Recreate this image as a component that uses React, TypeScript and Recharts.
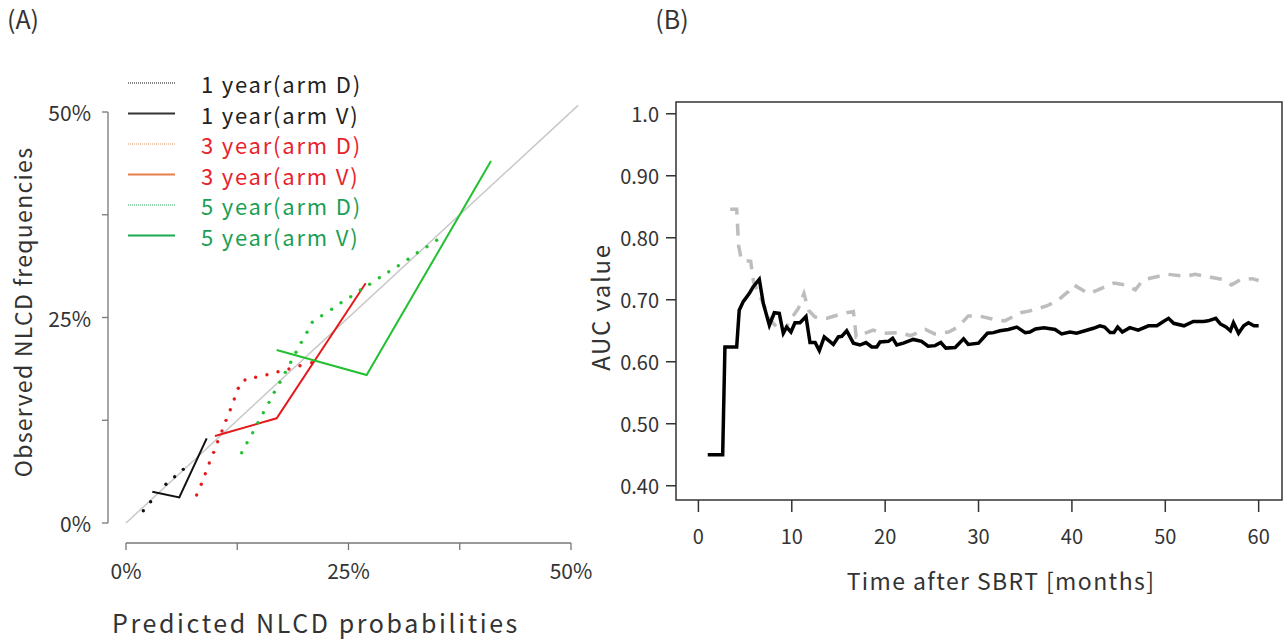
import React from 'react';
import { ComposedChart, Line, XAxis, YAxis, ReferenceLine, ReferenceArea } from 'recharts';

// ---- Panel A: calibration (predicted vs observed) ----
const identity = [0, 0.508];

const y1DX = [0.0195, 0.0277, 0.0449, 0.0547, 0.0644];
const y1DY = [0.015, 0.0259, 0.0471, 0.0563, 0.0653];
const y1VX = [0.0296, 0.0599, 0.0907];
const y1VY = [0.0381, 0.0312, 0.103];

const y3DX = [0.0794, 0.0846, 0.0891, 0.0936, 0.0985, 0.103, 0.1079, 0.1124, 0.1172, 0.1217, 0.1262, 0.1337, 0.1457, 0.1584, 0.1708, 0.1831, 0.1955, 0.2087];
const y3DY = [0.0341, 0.0471, 0.06, 0.073, 0.086, 0.0989, 0.1119, 0.1249, 0.1378, 0.1509, 0.1639, 0.174, 0.1773, 0.1804, 0.1841, 0.1873, 0.1914, 0.195];
const y3VX = [0.1, 0.1693, 0.2693];
const y3VY = [0.1058, 0.1274, 0.2916];

const y5DX = [0.13, 0.136, 0.1424, 0.1483, 0.1543, 0.1607, 0.1666, 0.173, 0.179, 0.1851, 0.191, 0.197, 0.2034, 0.2093, 0.2199, 0.2311, 0.2416, 0.2525, 0.2633, 0.2738, 0.2846, 0.2952, 0.306, 0.3169, 0.3273, 0.3382, 0.3491];
const y5DY = [0.0855, 0.0977, 0.1099, 0.122, 0.1342, 0.1468, 0.159, 0.1712, 0.1833, 0.1955, 0.2077, 0.2198, 0.232, 0.2442, 0.2522, 0.26, 0.268, 0.2753, 0.2835, 0.2904, 0.2984, 0.3057, 0.313, 0.3208, 0.3288, 0.3361, 0.3439];
const y5VX = [0.1693, 0.2704, 0.4101];
const y5VY = [0.2105, 0.18, 0.4404];

const pctTicks = [0, 0.125, 0.25, 0.375, 0.5];
const pctLabelled = [0, 0.25, 0.5];

const legendItems = [
  { label: '1 year(arm D)', line: '#111', text: '#222', dotted: true },
  { label: '1 year(arm V)', line: '#333', text: '#222', dotted: false },
  { label: '3 year(arm D)', line: '#e8956a', text: '#e8232c', dotted: true },
  { label: '3 year(arm V)', line: '#e8804a', text: '#e8232c', dotted: false },
  { label: '5 year(arm D)', line: '#2aa55a', text: '#1a9f55', dotted: true },
  { label: '5 year(arm V)', line: '#1ea84f', text: '#1a9f55', dotted: false },
];

// ---- Panel B: time-dependent AUC ----
const blackMonths = [1, 2.6, 2.84, 4.1, 4.37, 4.8, 5.44, 5.87, 6.52, 6.95, 7.6, 8.13, 8.66, 9.09, 9.45, 9.91, 10.34, 10.88, 11.52, 11.95, 12.5, 12.95, 13.48, 14.45, 14.98, 15.35, 15.88, 16.6, 17.3, 17.95, 18.56, 19.1, 19.45, 20.35, 20.8, 21.24, 21.95, 23.0, 23.9, 24.6, 25.35, 25.96, 26.5, 27.5, 28.4, 28.9, 30.0, 30.95, 31.6, 32.3, 33.2, 34.1, 35.0, 35.5, 36.1, 37.0, 38.2, 38.9, 39.8, 40.5, 41.4, 42.3, 43.0, 43.5, 44.1, 44.5, 44.9, 45.4, 46.2, 47.1, 48.2, 49.1, 49.8, 50.35, 50.9, 52.0, 53.0, 54.1, 54.6, 55.4, 55.9, 56.5, 56.97, 57.3, 57.85, 58.4, 58.9, 59.5, 60.0];
const blackAuc = [0.45, 0.45, 0.624, 0.624, 0.683, 0.697, 0.71, 0.721, 0.733, 0.694, 0.659, 0.679, 0.678, 0.646, 0.656, 0.648, 0.663, 0.663, 0.673, 0.631, 0.631, 0.618, 0.64, 0.628, 0.64, 0.641, 0.65, 0.63, 0.627, 0.631, 0.624, 0.624, 0.632, 0.633, 0.638, 0.627, 0.63, 0.636, 0.633, 0.625, 0.626, 0.631, 0.622, 0.623, 0.637, 0.628, 0.63, 0.646, 0.647, 0.65, 0.652, 0.656, 0.647, 0.648, 0.653, 0.655, 0.652, 0.645, 0.648, 0.646, 0.65, 0.654, 0.658, 0.656, 0.647, 0.647, 0.656, 0.648, 0.655, 0.651, 0.658, 0.658, 0.665, 0.67, 0.662, 0.658, 0.665, 0.665, 0.666, 0.67, 0.661, 0.656, 0.65, 0.663, 0.646, 0.658, 0.663, 0.658, 0.658];

const grayMonths = [3.4, 4.1, 4.3, 4.6, 5.6, 5.9, 6.8, 7.7, 8.4, 9.1, 9.8, 10.7, 11.3, 11.8, 12.5, 13.7, 15.5, 16.6, 16.9, 18.7, 19.8, 21.6, 22.7, 24.3, 25.3, 26.8, 27.8, 28.9, 30.0, 31.8, 32.8, 34.5, 35.5, 37.3, 38.4, 39.6, 40.2, 41.8, 42.8, 44.5, 45.7, 46.8, 47.6, 49.3, 50.3, 52.1, 53.2, 55.0, 56.1, 57.1, 58.0, 59.3, 60.0];
const grayAuc = [0.846, 0.846, 0.788, 0.764, 0.762, 0.729, 0.699, 0.667, 0.656, 0.646, 0.667, 0.686, 0.71, 0.683, 0.672, 0.67, 0.678, 0.681, 0.64, 0.651, 0.646, 0.647, 0.642, 0.652, 0.645, 0.648, 0.656, 0.674, 0.674, 0.668, 0.666, 0.679, 0.682, 0.69, 0.698, 0.713, 0.724, 0.71, 0.716, 0.727, 0.724, 0.716, 0.732, 0.738, 0.741, 0.738, 0.741, 0.736, 0.733, 0.724, 0.732, 0.734, 0.731];

const aucTicks = [0.4, 0.5, 0.6, 0.7, 0.8, 0.9, 1.0];
const monthTicks = [0, 10, 20, 30, 40, 50, 60];

const FONT = '"Noto Sans CJK JP", "Noto Sans", sans-serif';

const zip = (xs: number[], ys: number[]) => xs.map((x, i) => ({ x, y: ys[i] }));

function PctXTick({ x, y, payload }: any) {
  if (!pctLabelled.includes(payload.value)) return null;
  return (
    <text x={x} y={y + 18} textAnchor="middle" dominantBaseline="central" fontSize={21} fill="#333" fontFamily={FONT}>
      {Math.round(payload.value * 100)}%
    </text>
  );
}

function PctYTick({ x, y, payload }: any) {
  if (!pctLabelled.includes(payload.value)) return null;
  return (
    <text x={x - 9} y={y} textAnchor="end" dominantBaseline="central" fontSize={21} fill="#333" fontFamily={FONT}>
      {Math.round(payload.value * 100)}%
    </text>
  );
}

function AucTick({ x, y, payload }: any) {
  const v = payload.value;
  return (
    <text x={x - 5} y={y} textAnchor="end" dominantBaseline="central" fontSize={20} fill="#333" fontFamily={FONT}>
      {v === 1 ? '1.0' : v.toFixed(2)}
    </text>
  );
}

function MonthTick({ x, y, payload }: any) {
  return (
    <text x={x} y={y + 21} textAnchor="middle" dominantBaseline="central" fontSize={20} fill="#333" fontFamily={FONT}>
      {payload.value}
    </text>
  );
}

function LegendA() {
  return (
    <svg width={280} height={200} style={{ position: 'absolute', left: 120, top: 68 }}>
      {legendItems.map((it, i) => {
        const cy = 15 + i * 30.5;
        return (
          <g key={it.label}>
            <line x1={8} x2={55} y1={cy} y2={cy} stroke={it.line}
              strokeWidth={it.dotted ? 1.2 : 2} strokeDasharray={it.dotted ? '1 1' : undefined} />
            <text x={81} y={cy} dominantBaseline="central" fontSize={22} letterSpacing={1.8} fill={it.text} fontFamily={FONT}>
              {it.label}
            </text>
          </g>
        );
      })}
    </svg>
  );
}

const textStyle: React.CSSProperties = {
  position: 'absolute', fontFamily: FONT, color: '#333', whiteSpace: 'nowrap',
  transform: 'translate(-50%, -50%)', lineHeight: 1,
};

export default function App() {
  const axisYA = -0.0243;
  const axisXA = -0.0202;
  return (
    <div style={{ position: 'absolute', left: 0, top: 0, width: 1284, height: 640, background: '#fff', overflow: 'hidden' }}>
      <div style={{ ...textStyle, left: 23, top: 18, fontSize: 25 }}>(A)</div>
      <div style={{ ...textStyle, left: 672, top: 18, fontSize: 25 }}>(B)</div>
      <div style={{ ...textStyle, left: 22, top: 312, fontSize: 23, letterSpacing: 1.3, transform: 'translate(-50%, -50%) rotate(-90deg)' }}>Observed NLCD frequencies</div>
      <div style={{ ...textStyle, left: 316, top: 622, fontSize: 25, letterSpacing: 2.6 }}>Predicted NLCD probabilities</div>
      <div style={{ ...textStyle, left: 600, top: 307, fontSize: 24, letterSpacing: 1.7, transform: 'translate(-50%, -50%) rotate(-90deg)' }}>AUC value</div>
      <div style={{ ...textStyle, left: 1001, top: 580, fontSize: 23, letterSpacing: 1.4 }}>Time after SBRT [months]</div>

      {/* Panel A */}
      <div style={{ position: 'absolute', left: 0, top: 0 }}>
        <ComposedChart width={640} height={640} margin={{ top: 95.56, right: 51.2, bottom: 57, left: 48 }}>
          <XAxis type="number" dataKey="x" domain={[axisXA, 0.52]} allowDataOverflow ticks={pctTicks}
            axisLine={false} tickSize={7} tickLine={{ stroke: '#777', strokeWidth: 1.3 }} tick={<PctXTick />} height={40} />
          <YAxis type="number" dataKey="y" domain={[axisYA, 0.52]} allowDataOverflow ticks={pctTicks}
            axisLine={false} tickSize={6} tickLine={{ stroke: '#777', strokeWidth: 1.3 }} tick={<PctYTick />} width={60} />
          <ReferenceLine segment={[{ x: 0, y: axisYA }, { x: 0.5, y: axisYA }]} stroke="#777" strokeWidth={1.3} ifOverflow="visible" />
          <ReferenceLine segment={[{ x: axisXA, y: 0 }, { x: axisXA, y: 0.5 }]} stroke="#777" strokeWidth={1.3} ifOverflow="visible" />
          <Line data={zip(identity, identity)} dataKey="y" stroke="#c8c8c8" strokeWidth={1.5} dot={false} isAnimationActive={false} />
          <Line data={zip(y1DX, y1DY)} dataKey="y" stroke="none" dot={{ r: 1.7, fill: '#111', stroke: 'none' }} isAnimationActive={false} />
          <Line data={zip(y1VX, y1VY)} dataKey="y" stroke="#111" strokeWidth={2} dot={false} isAnimationActive={false} />
          <Line data={zip(y3DX, y3DY)} dataKey="y" stroke="none" dot={{ r: 1.7, fill: '#e41a1c', stroke: 'none' }} isAnimationActive={false} />
          <Line data={zip(y3VX, y3VY)} dataKey="y" stroke="#e41a1c" strokeWidth={2} dot={false} isAnimationActive={false} />
          <Line data={zip(y5DX, y5DY)} dataKey="y" stroke="none" dot={{ r: 1.7, fill: '#22c032', stroke: 'none' }} isAnimationActive={false} />
          <Line data={zip(y5VX, y5VY)} dataKey="y" stroke="#22c032" strokeWidth={2} dot={false} isAnimationActive={false} />
        </ComposedChart>
      </div>
      <LegendA />

      {/* Panel B */}
      <div style={{ position: 'absolute', left: 560, top: 0 }}>
        <ComposedChart width={724} height={640} margin={{ top: 102, right: 2, bottom: 100, left: 36 }}>
          <XAxis type="number" dataKey="x" domain={[-2.4, 62.5]} allowDataOverflow ticks={monthTicks}
            axisLine={false} tickSize={12} tickLine={{ stroke: '#333', strokeWidth: 1.5 }} tick={<MonthTick />} height={40} />
          <YAxis type="number" dataKey="y" domain={[0.377, 1.019]} allowDataOverflow ticks={aucTicks}
            axisLine={false} tickSize={10} tickLine={{ stroke: '#333', strokeWidth: 1.5 }} tick={<AucTick />} width={80} />
          <ReferenceArea x1={-2.4} x2={62.5} y1={0.377} y2={1.019} fill="none" stroke="#333" strokeWidth={1.5} ifOverflow="visible" />
          <Line data={zip(grayMonths, grayAuc)} dataKey="y" stroke="#bdbdbd" strokeWidth={3.5} strokeDasharray="12 9"
            dot={false} isAnimationActive={false} />
          <Line data={zip(blackMonths, blackAuc)} dataKey="y" stroke="#000" strokeWidth={3.5} strokeLinejoin="miter"
            dot={false} isAnimationActive={false} />
        </ComposedChart>
      </div>
    </div>
  );
}
